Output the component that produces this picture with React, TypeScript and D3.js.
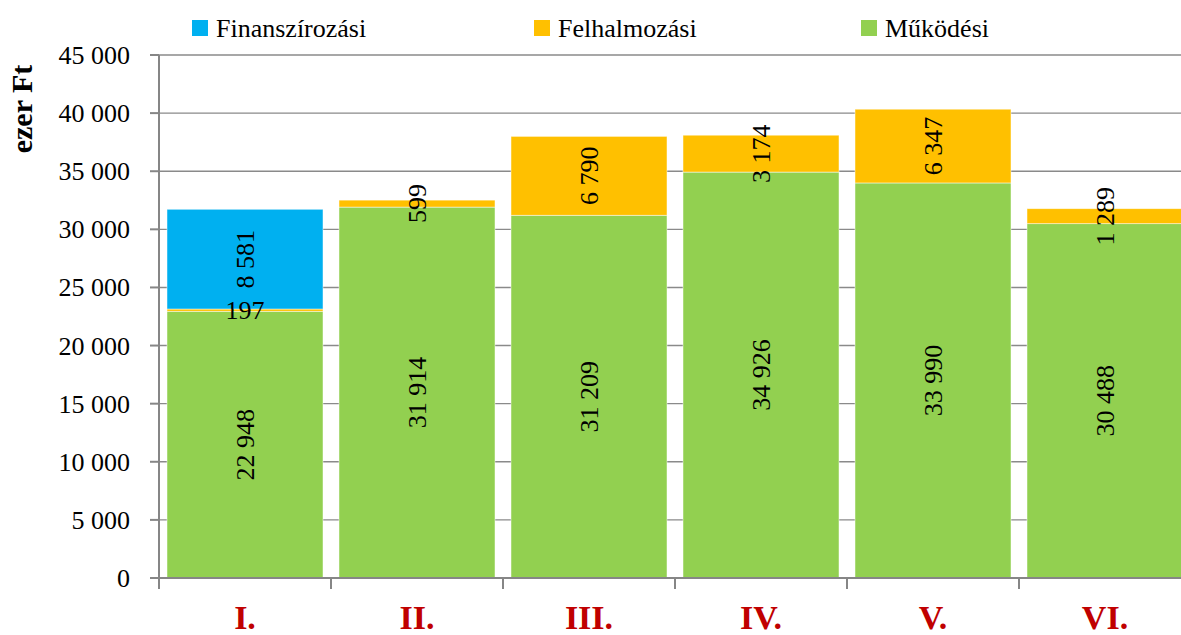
import React from 'react';
import * as d3 from 'd3';

// Categories (quarters / periods) and stacked series
const categories = ['I.', 'II.', 'III.', 'IV.', 'V.', 'VI.'];
const mukodesi = [22948, 31914, 31209, 34926, 33990, 30488];
const felhalmozasi = [197, 599, 6790, 3174, 6347, 1289];
const finanszirozasi = [8581, 0, 0, 0, 0, 0];
const yTicks = [0, 5000, 10000, 15000, 20000, 25000, 30000, 35000, 40000, 45000];

const seriesNames = ['Működési', 'Felhalmozási', 'Finanszírozási'];
const seriesColors = ['#92D050', '#FFC000', '#00B0F0'];
// legend is drawn in reverse order (top of stack first)
const legendOrder = ['Finanszírozási', 'Felhalmozási', 'Működési'];
// labels that are written horizontally instead of rotated
const horizontalLabels = ['I.|Felhalmozási'];

const W = 1181;
const H = 635;

const fmt = d3.formatLocale({ decimal: ',', thousands: ' ', grouping: [3], currency: ['', ''] }).format(',d');

// regular serif only resolves at small pixel sizes in this renderer
const regular = { fontFamily: "'Liberation Serif'", fontWeight: 400, fontSize: 26 };
const bold = { fontFamily: "'Liberation Serif'", fontWeight: 700 };

export default function App() {
  const left = 159;
  const right = 1191;
  const top = 55;
  const bottom = 578;

  const x = d3.scaleBand<string>().domain(categories).range([left, right]).paddingInner(0.093).paddingOuter(0.0465);
  const y = d3.scaleLinear().domain([0, 45000]).range([bottom, top]);

  const rows = categories.map((c, i) => ({
    cat: c,
    'Működési': mukodesi[i],
    'Felhalmozási': felhalmozasi[i],
    'Finanszírozási': finanszirozasi[i],
  }));
  const stack = d3.stack<any>().keys(seriesNames)(rows);

  const step = x.step();
  const boundaries = categories.map((c) => (x(c) as number) - (step * 0.093) / 2).concat([right]);
  boundaries[0] = left;

  const legendX = [192, 534, 861];

  return (
    <svg width={W} height={H} style={{ position: 'absolute', left: 0, top: 0, background: '#fff' }}>
      {/* gridlines */}
      {yTicks.map((t) => (
        <line key={'g' + t} x1={left} x2={right} y1={y(t)} y2={y(t)} stroke="#8a8a8a" strokeWidth={1.4} />
      ))}
      {/* bars */}
      {stack.map((s, si) => (
        <g key={s.key} fill={seriesColors[si]}>
          {s.map((d, i) =>
            d[1] - d[0] > 0 ? (
              <rect
                key={i}
                x={x(categories[i])}
                width={x.bandwidth()}
                y={y(d[1])}
                height={y(d[0]) - y(d[1])}
                stroke="#ffffff"
                strokeOpacity={0.6}
                strokeWidth={0.8}
              />
            ) : null
          )}
        </g>
      ))}
      {/* axes */}
      <line x1={left} x2={left} y1={top} y2={bottom + 11} stroke="#868686" strokeWidth={2} />
      <line x1={left} x2={right} y1={bottom} y2={bottom} stroke="#868686" strokeWidth={2} />
      {yTicks.map((t) => (
        <g key={'t' + t}>
          <line x1={left - 9} x2={left} y1={y(t)} y2={y(t)} stroke="#868686" strokeWidth={2} />
          <text style={regular} x={130} y={y(t) + 9} textAnchor="end" fill="#000">
            {fmt(t)}
          </text>
        </g>
      ))}
      {boundaries.map((b, i) => (
        <line key={'xb' + i} x1={b} x2={b} y1={bottom} y2={bottom + 11} stroke="#868686" strokeWidth={2} />
      ))}
      {categories.map((c) => (
        <text
          key={'xl' + c}
          style={bold}
          x={(x(c) as number) + x.bandwidth() / 2}
          y={629}
          textAnchor="middle"
          fontSize={34}
          fill="#C00000"
        >
          {c}
        </text>
      ))}
      {/* y axis title */}
      <text style={bold} transform={`translate(32,109) rotate(-90)`} textAnchor="middle" fontSize={30} fill="#000">
        ezer Ft
      </text>
      {/* value labels */}
      {stack.map((s) =>
        s.map((d, i) => {
          const v = d[1] - d[0];
          if (v <= 0) return null;
          const cx = (x(categories[i]) as number) + x.bandwidth() / 2;
          const cy = (y(d[0]) + y(d[1])) / 2;
          const horiz = horizontalLabels.includes(categories[i] + '|' + s.key);
          return (
            <text
              key={s.key + i}
              style={regular}
              transform={horiz ? `translate(${cx},${cy + 9})` : `translate(${cx + 9},${cy}) rotate(-90)`}
              textAnchor="middle"
              fill="#000"
            >
              {fmt(v)}
            </text>
          );
        })
      )}
      {/* legend */}
      {legendOrder.map((name, i) => (
        <g key={'lg' + name}>
          <rect x={legendX[i]} y={20} width={16} height={16} fill={seriesColors[seriesNames.indexOf(name)]} />
          <text style={regular} x={legendX[i] + 24} y={37} fill="#000">
            {name}
          </text>
        </g>
      ))}
    </svg>
  );
}
